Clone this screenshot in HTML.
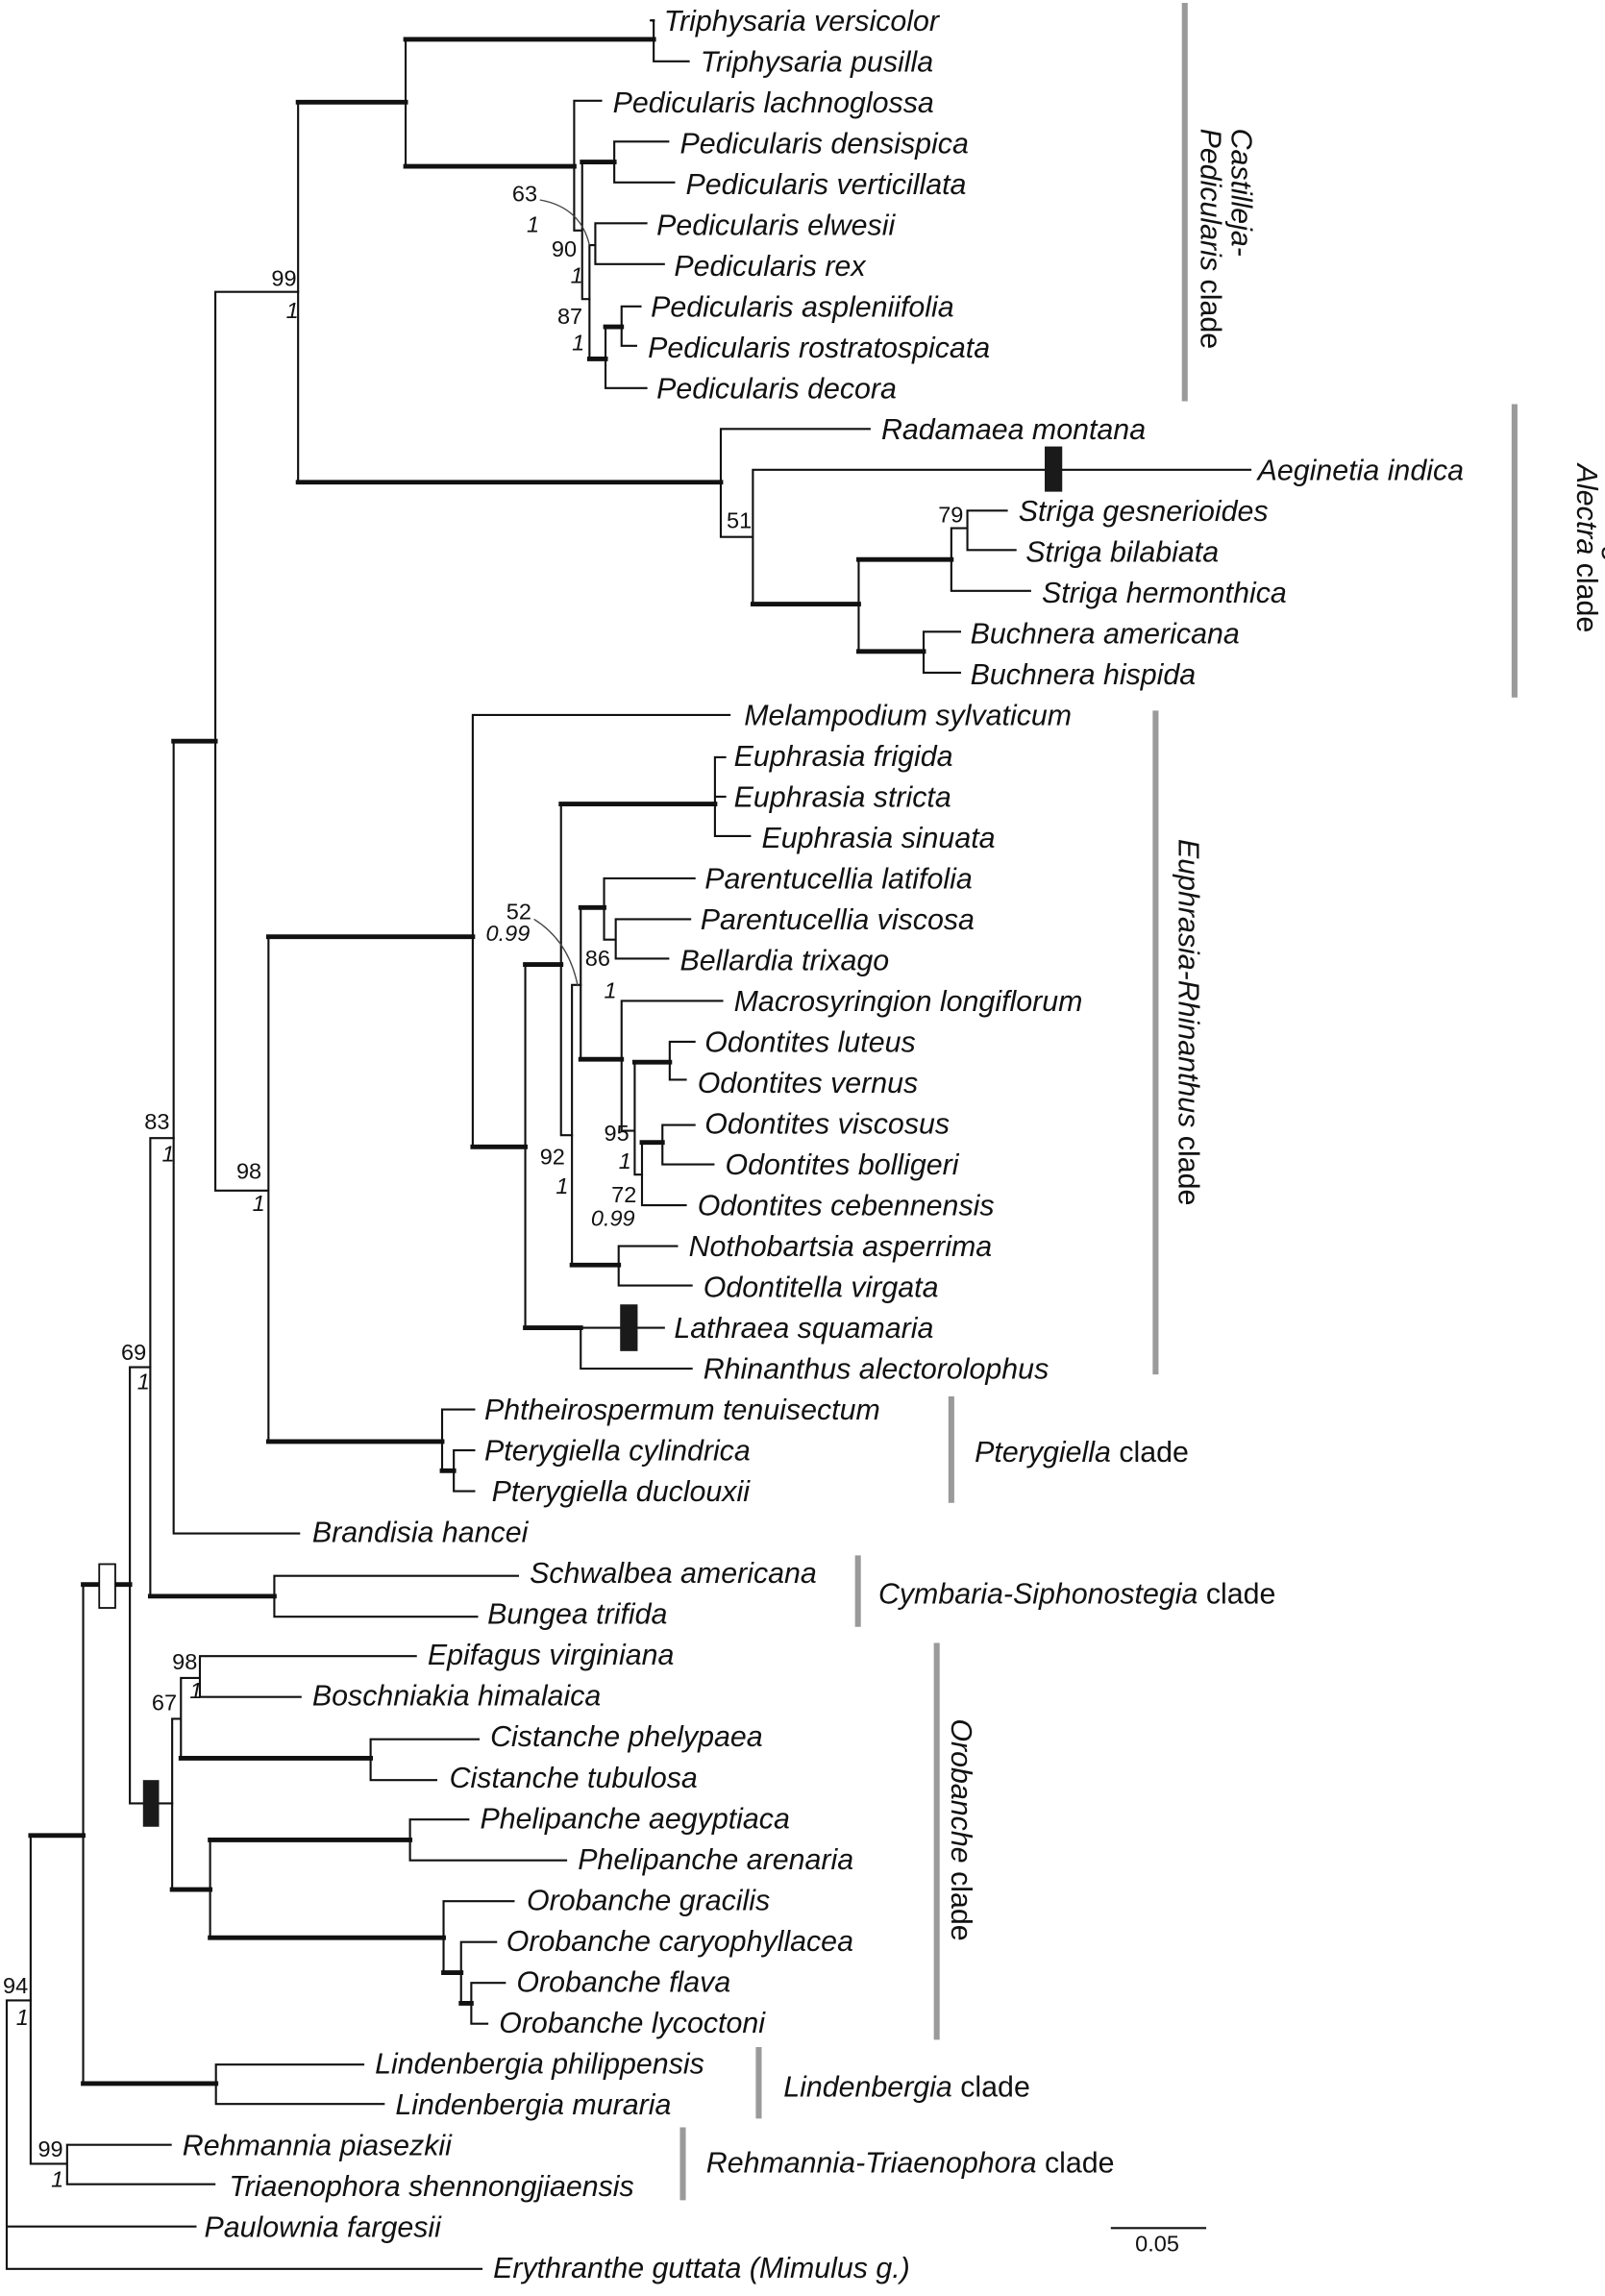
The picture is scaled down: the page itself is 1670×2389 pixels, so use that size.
<!DOCTYPE html>
<html><head><meta charset="utf-8"><style>
html,body{margin:0;padding:0;background:#fff}
svg{display:block}
.t{font-family:"Liberation Sans",sans-serif;font-style:italic;font-size:20px;fill:#111}
.s{font-family:"Liberation Sans",sans-serif;font-size:15.5px;fill:#111}
.si{font-family:"Liberation Sans",sans-serif;font-size:15.5px;font-style:italic;fill:#111}
.c{font-family:"Liberation Sans",sans-serif;font-size:20px;fill:#111}
.ci{font-family:"Liberation Sans",sans-serif;font-size:20px;font-style:italic;fill:#111}
</style></head><body>
<svg width="1670" height="2389" viewBox="0 0 1100 1573.6" preserveAspectRatio="none" xmlns="http://www.w3.org/2000/svg">
<g stroke="#111" stroke-width="1.4" fill="none" stroke-linecap="square">
<!-- root -->
<path d="M4.6 1371V1555M4.6 1555H330M4.6 1526H134M4.6 1371H21"/>
<path d="M21 1258V1483M21 1483H46M46 1470V1497M46 1470H117M46 1497H147"/>
<path d="M57 1086V1428M148 1415V1442M148 1415H249M148 1442H263"/>
<path d="M89 937V1236M89 937H103M89 1236H118"/>
<path d="M103 780V1094M103 780H119M188 1080V1108M188 1080H355M188 1108H327"/>
<path d="M119 508V1051M119 1051H205"/>
<path d="M147.6 200V816M147.6 200H204.3M147.6 816H184M184 642V988"/>
<path d="M303 966V1008M303 966H325M311 994V1022M311 994H325M311 1022H325"/>
<path d="M324 490V786M324 490H500M360 661V909"/>
<path d="M398 910V938M398 910H455M398 938H474"/>
<path d="M384.5 551V778M384.5 778H392M490 519V573M490 519H497M490 546H497M490 573H514"/>
<path d="M392 675V867M392 675H398M424 854V881M424 854H464M424 881H474"/>
<path d="M398 622V726M414 602V644M414 602H476M414 644H422M422 630V657M422 630H473M422 657H458"/>
<path d="M426 686V775M426 686H495M426 775H435M435 728V805M435 805H440M459 714V740M459 714H476M459 740H470"/>
<path d="M440 783V826M440 826H470M454 771V798M454 771H476M454 798H489"/>
<!-- Orobanche -->
<path d="M118 1178V1295M118 1178H124M124 1150V1205M124 1150H137M137 1135V1163M137 1135H285M137 1163H206"/>
<path d="M254 1192V1220M254 1192H328M254 1220H299"/>
<path d="M144 1261V1328M281 1247V1275M281 1247H321M281 1275H388"/>
<path d="M304 1303V1352M304 1303H352M316 1331V1373M316 1331H340M323 1359V1387M323 1359H346M323 1387H334"/>
<!-- upper -->
<path d="M204.3 70V330.5M278 27V114M448 14V42M448 14H447M448 14H447M448 42H472M448 14H447"/>
<path d="M393.5 69V158M393.5 69H412M393.5 158H399M399 111V205M399 205H404M421 97V125M421 97H458M421 125H462"/>
<path d="M404 168V246M404 168H408M408 153V181M408 153H443M408 181H455M415 224V266M415 266H443M426 210V237M426 210H439M426 237H436"/>
<path d="M494 294V368M494 294H596M494 368H516M516 322V414M516 322H857"/>
<path d="M652 362V405M652 362H663M652 405H706M663 350V377M663 350H690M663 377H696M588.5 383.5V446.5M633 433V461M633 433H658M633 461H658"/>
<path d="M448 14H447"/>
<path d="M448 14H446"/>
<path d="M762 1527H826"/>
</g>
<g stroke="#111" stroke-width="3.2" fill="none" stroke-linecap="square">
<path d="M21 1258H57M57 1428H148M57 1086H89M103 1094H188M119 508H147.6M184 642H324M184 988H303M303 1008H311"/>
<path d="M324 786H360M360 661H384.5M360 910H398M384.5 551H490M392 867H424M398 622H414M398 726H426M435 728H459M440 783H454"/>
<path d="M124 1205H254M118 1295H144M144 1261H281M144 1328H304M304 1352H316M316 1373H323"/>
<path d="M204.3 70H278M278 27H448M278 114H393.5M399 111H421M404 246H415M415 224H426M204.3 330.5H494M516 414H588.5M588.5 383.5H652M588.5 446.5H633"/>
</g>
<g stroke="#444" stroke-width="0.9" fill="none">
<path d="M370 137Q398 142 404 168"/>
<path d="M366 630Q390 645 396 676"/>
</g>
<rect x="68" y="1072" width="11" height="30" fill="#fff" stroke="#111" stroke-width="1.2"/>
<rect x="98" y="1220" width="11" height="32" fill="#1a1a1a"/>
<rect x="425" y="894" width="12" height="32" fill="#1a1a1a"/>
<rect x="716" y="306" width="12" height="31" fill="#1a1a1a"/>
<!-- clade bars -->
<g stroke="#9a9a9a" stroke-width="4">
<path d="M812 2V275M1038 277V478M792 487V942M652 957V1030M588 1066V1115M642 1126V1398M520 1403V1452M468 1458V1508"/>
</g>
<!-- tip labels -->
<g class="t">
<text x="455" y="21">Triphysaria versicolor</text>
<text x="480" y="49">Triphysaria pusilla</text>
<text x="420" y="77">Pedicularis lachnoglossa</text>
<text x="466" y="105">Pedicularis densispica</text>
<text x="470" y="133">Pedicularis verticillata</text>
<text x="450" y="161">Pedicularis elwesii</text>
<text x="462" y="189">Pedicularis rex</text>
<text x="446" y="217">Pedicularis aspleniifolia</text>
<text x="444" y="245">Pedicularis rostratospicata</text>
<text x="450" y="273">Pedicularis decora</text>
<text x="604" y="301">Radamaea montana</text>
<text x="862" y="329">Aeginetia indica</text>
<text x="698" y="357">Striga gesnerioides</text>
<text x="703" y="385">Striga bilabiata</text>
<text x="714" y="413">Striga hermonthica</text>
<text x="665" y="441">Buchnera americana</text>
<text x="665" y="469">Buchnera hispida</text>
<text x="510" y="497">Melampodium sylvaticum</text>
<text x="503" y="525">Euphrasia frigida</text>
<text x="503" y="553">Euphrasia stricta</text>
<text x="522" y="581">Euphrasia sinuata</text>
<text x="483" y="609">Parentucellia latifolia</text>
<text x="480" y="637">Parentucellia viscosa</text>
<text x="466" y="665">Bellardia trixago</text>
<text x="503" y="693">Macrosyringion longiflorum</text>
<text x="483" y="721">Odontites luteus</text>
<text x="478" y="749">Odontites vernus</text>
<text x="483" y="777">Odontites viscosus</text>
<text x="497" y="805">Odontites bolligeri</text>
<text x="478" y="833">Odontites cebennensis</text>
<text x="472" y="861">Nothobartsia asperrima</text>
<text x="482" y="889">Odontitella virgata</text>
<text x="462" y="917">Lathraea squamaria</text>
<text x="482" y="945">Rhinanthus alectorolophus</text>
<text x="332" y="973">Phtheirospermum tenuisectum</text>
<text x="332" y="1001">Pterygiella cylindrica</text>
<text x="337" y="1029">Pterygiella duclouxii</text>
<text x="214" y="1057">Brandisia hancei</text>
<text x="363" y="1085">Schwalbea americana</text>
<text x="334" y="1113">Bungea trifida</text>
<text x="293" y="1141">Epifagus virginiana</text>
<text x="214" y="1169">Boschniakia himalaica</text>
<text x="336" y="1197">Cistanche phelypaea</text>
<text x="308" y="1225">Cistanche tubulosa</text>
<text x="329" y="1253">Phelipanche aegyptiaca</text>
<text x="396" y="1281">Phelipanche arenaria</text>
<text x="361" y="1309">Orobanche gracilis</text>
<text x="347" y="1337">Orobanche caryophyllacea</text>
<text x="354" y="1365">Orobanche flava</text>
<text x="342" y="1393">Orobanche lycoctoni</text>
<text x="257" y="1421">Lindenbergia philippensis</text>
<text x="271" y="1449">Lindenbergia muraria</text>
<text x="125" y="1477">Rehmannia piasezkii</text>
<text x="157" y="1505">Triaenophora shennongjiaensis</text>
<text x="140" y="1533">Paulownia fargesii</text>
<text x="338" y="1561">Erythranthe guttata (Mimulus g.)</text>
</g>
<!-- support values -->
<g class="s">
<text x="186" y="196">99</text>
<text x="351" y="138">63</text>
<text x="378" y="176">90</text>
<text x="382" y="222">87</text>
<text x="498" y="362">51</text>
<text x="643" y="358">79</text>
<text x="347" y="630">52</text>
<text x="401" y="662">86</text>
<text x="370" y="798">92</text>
<text x="414" y="782">95</text>
<text x="419" y="824">72</text>
<text x="99" y="774">83</text>
<text x="162" y="808">98</text>
<text x="83" y="932">69</text>
<text x="118" y="1144">98</text>
<text x="104" y="1172">67</text>
<text x="2" y="1366">94</text>
<text x="26" y="1478">99</text>
<text x="778" y="1543">0.05</text>
</g>
<g class="si">
<text x="196" y="218">1</text>
<text x="361" y="159">1</text>
<text x="391" y="194">1</text>
<text x="392" y="240">1</text>
<text x="333" y="645">0.99</text>
<text x="414" y="684">1</text>
<text x="381" y="818">1</text>
<text x="424" y="801">1</text>
<text x="405" y="840">0.99</text>
<text x="111" y="796">1</text>
<text x="173" y="830">1</text>
<text x="94" y="952">1</text>
<text x="130" y="1164">1</text>
<text x="11" y="1388">1</text>
<text x="35" y="1499">1</text>
</g>
<!-- clade names -->
<text class="ci" transform="translate(844,88) rotate(90)">Castilleja-</text>
<text class="c" transform="translate(823,88) rotate(90)"><tspan font-style="italic">Pedicularis</tspan> clade</text>
<text class="ci" transform="translate(1102,345) rotate(90)">Striga-</text>
<text class="c" transform="translate(1081,318) rotate(90)"><tspan font-style="italic">Alectra</tspan> clade</text>
<text class="c" transform="translate(808,575) rotate(90)"><tspan font-style="italic">Euphrasia-Rhinanthus</tspan> clade</text>
<text class="c" transform="translate(652,1178) rotate(90)"><tspan font-style="italic">Orobanche</tspan> clade</text>
<text class="c" x="668" y="1002"><tspan font-style="italic">Pterygiella</tspan> clade</text>
<text class="c" x="602" y="1099"><tspan font-style="italic">Cymbaria-Siphonostegia</tspan> clade</text>
<text class="c" x="537" y="1437"><tspan font-style="italic">Lindenbergia</tspan> clade</text>
<text class="c" x="484" y="1489"><tspan font-style="italic">Rehmannia-Triaenophora</tspan> clade</text>
</svg>
</body></html>
